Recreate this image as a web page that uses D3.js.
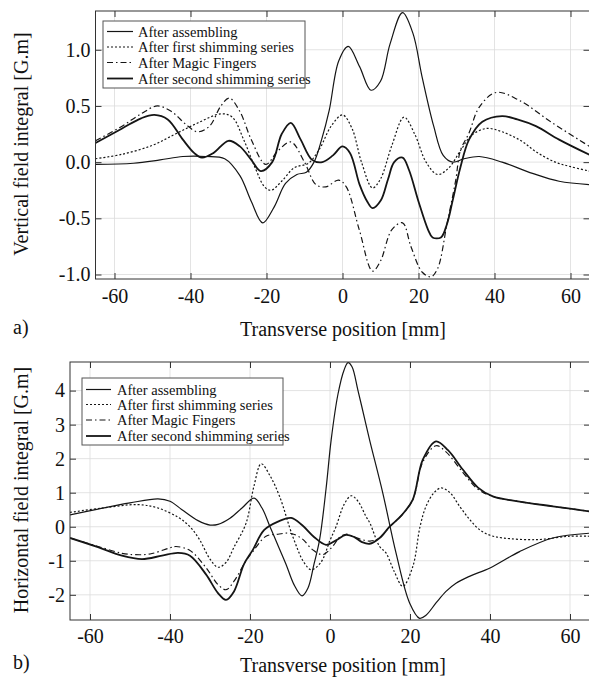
<!DOCTYPE html>
<html><head><meta charset="utf-8">
<script src="https://cdn.jsdelivr.net/npm/d3@7"></script>
<style>body{margin:0;background:#fff}svg{display:block}text{font-family:"Liberation Serif","DejaVu Serif",serif;fill:#111}</style>
</head><body>
<svg id="c" width="589" height="677"></svg>
<script>
// ---------- DATA ----------
const seriesNames = ["After assembling","After first shimming series","After Magic Fingers","After second shimming series"];
const xTicks = [-60,-40,-20,0,20,40,60];
const topYTicks = [-1.0,-0.5,0.0,0.5,1.0];
const botYTicks = [-2,-1,0,1,2,3,4];

// Vertical field integral [G.m] (panel a)
const vAssembling = [[-65,-0.02],[-55,-0.01],[-48,0.02],[-42,0.05],[-36,0.05],[-31,0.03],[-27,-0.12],[-24,-0.35],[-21,-0.54],[-18,-0.4],[-15,-0.19],[-12,-0.11],[-9.5,-0.09],[-7.5,0.0],[-5.5,0.2],[-3.5,0.46],[-1,0.9],[1.5,1.03],[4.5,0.85],[7.5,0.64],[10,0.72],[12.5,1.05],[15.8,1.33],[18.5,1.15],[21,0.75],[24,0.32],[26.5,0.06],[29,0.0],[32,0.03],[36,0.05],[42,0.0],[50,-0.1],[57,-0.17],[65,-0.2]];
const vFirst = [[-65,0.03],[-58,0.07],[-50,0.15],[-44,0.25],[-38,0.35],[-32,0.43],[-29,0.4],[-26,0.2],[-23,-0.05],[-20.5,-0.22],[-18.8,-0.25],[-16,-0.17],[-12.7,-0.05],[-9,-0.01],[-6,0.12],[-3,0.32],[0,0.42],[2.5,0.3],[5,0.0],[7.9,-0.23],[10,-0.15],[13,0.15],[16.2,0.4],[19,0.25],[22,0.0],[25,-0.11],[28,-0.05],[31,0.1],[34,0.24],[38,0.3],[42,0.27],[47,0.19],[51,0.09],[56,0.0],[60,-0.04],[65,-0.08]];
const vMagic = [[-65,0.19],[-58,0.32],[-53,0.43],[-48.7,0.5],[-45,0.45],[-41,0.33],[-38.2,0.27],[-35,0.32],[-32,0.5],[-29.8,0.57],[-27,0.45],[-24,0.2],[-20.2,-0.02],[-17,0.1],[-13.6,0.18],[-10,0.0],[-7,-0.2],[-4.4,-0.22],[-1,-0.16],[1,-0.22],[4.4,-0.6],[7.9,-0.97],[10,-0.88],[13,-0.6],[15.8,-0.54],[18,-0.75],[21,-0.98],[23.3,-1.02],[25,-0.95],[27.5,-0.55],[29.8,-0.16],[31,0.1],[33.3,0.26],[36,0.49],[40.4,0.62],[46.5,0.55],[55.2,0.35],[65,0.14]];
const vSecond = [[-65,0.17],[-58,0.3],[-53,0.39],[-49.5,0.42],[-46,0.38],[-42,0.2],[-39,0.08],[-37,0.04],[-34,0.08],[-30,0.19],[-27,0.14],[-24,0.02],[-21.5,-0.08],[-18.5,0.0],[-16,0.25],[-13.6,0.35],[-11,0.2],[-8,0.02],[-5.3,0.0],[-2.5,0.06],[0,0.14],[2,0.08],[4.5,-0.2],[6.5,-0.35],[7.9,-0.41],[10.1,-0.34],[12,-0.15],[13.6,0.0],[15.8,0.04],[17.5,-0.07],[20,-0.35],[22.5,-0.6],[23.7,-0.67],[25.9,-0.67],[27.5,-0.55],[29,-0.34],[31,-0.05],[33.3,0.2],[36.8,0.36],[42,0.41],[46,0.38],[50.9,0.32],[57,0.2],[65,0.065]];

// Horizontal field integral [G.m] (panel b)
const hAssembling = [[-65,0.35],[-58,0.52],[-50,0.7],[-43,0.82],[-40,0.75],[-37,0.5],[-33,0.18],[-30,0.05],[-28,0.07],[-25,0.25],[-22,0.55],[-19,0.84],[-17,0.55],[-15,0.0],[-13,-0.55],[-11,-1.1],[-9,-1.7],[-7,-2.03],[-5.5,-1.8],[-4,-1.1],[-2.6,-0.38],[-1,1.1],[0.3,2.56],[2,3.9],[3.5,4.6],[4.5,4.82],[5.5,4.7],[7,4.0],[9,3.0],[10,2.5],[13.2,0.99],[16.5,-0.77],[19.9,-2.24],[22.4,-2.69],[24,-2.6],[26.5,-2.24],[29,-1.9],[31.5,-1.66],[35,-1.45],[40,-1.21],[47.4,-0.73],[55.7,-0.33],[65,-0.19]];
const hFirst = [[-65,0.42],[-57,0.55],[-48,0.65],[-43,0.55],[-38,0.28],[-35,0.0],[-32.6,-0.38],[-30,-0.95],[-28,-1.19],[-26,-1.05],[-24,-0.6],[-21,0.1],[-19,1.2],[-17.2,1.85],[-15,1.5],[-12.6,0.89],[-9.3,-0.29],[-6.5,-1.05],[-4.7,-1.26],[-2.3,-1.05],[0,-0.4],[1.5,0.0],[3.5,0.65],[5.3,0.91],[7,0.75],[9,0.3],[10,0.1],[12.4,-0.58],[14,-0.77],[16,-1.3],[18.2,-1.75],[20.7,-1.17],[22.5,0.0],[24,0.6],[26,1.0],[27.8,1.14],[30,1.0],[32.4,0.6],[35,0.2],[37.4,-0.09],[40,-0.25],[43.3,-0.33],[51.6,-0.38],[59.9,-0.28],[65,-0.28]];
const hMagic = [[-65,-0.33],[-58,-0.58],[-52,-0.78],[-49,-0.82],[-45,-0.8],[-40,-0.62],[-38.5,-0.58],[-35,-0.7],[-31,-1.2],[-28,-1.7],[-26,-1.85],[-24,-1.6],[-21,-1.0],[-19.3,-0.73],[-16,-0.28],[-13,-0.22],[-10,-0.19],[-7,-0.35],[-4.3,-0.68],[-1.8,-0.82],[0.5,-0.6],[2.5,-0.3],[4,-0.22],[6,-0.3],[8,-0.38],[10,-0.42],[12.4,-0.33],[14.9,0.0],[18,0.35],[20.7,0.8],[23.2,1.9],[26.5,2.38],[29,2.2],[33.2,1.6],[37,1.1],[40.7,0.89],[47.4,0.74],[55.7,0.6],[65,0.45]];
const hSecond = [[-65,-0.33],[-58,-0.6],[-52,-0.85],[-47,-0.95],[-42,-0.85],[-38,-0.77],[-35,-0.85],[-31,-1.4],[-28,-1.95],[-26,-2.15],[-24,-1.9],[-21.5,-1.1],[-19.3,-0.68],[-16.5,-0.1],[-13,0.15],[-9.7,0.26],[-7,0.05],[-4,-0.3],[-1,-0.53],[1.5,-0.4],[4,-0.24],[6,-0.3],[8,-0.45],[9.9,-0.5],[12.4,-0.33],[14.9,0.0],[18,0.35],[20.7,0.8],[23.2,1.97],[26.5,2.51],[29.5,2.25],[33.2,1.68],[37,1.15],[40.7,0.89],[47.4,0.74],[55.7,0.6],[65,0.45]];

// ---------- DRAW ----------
const svg = d3.select("#c");
const styles = [
  {w:1.2, dash:null},
  {w:1.2, dash:"2,2"},
  {w:1.2, dash:"6,3,1.5,3"},
  {w:1.8, dash:null}
];

function panel(cfg){
  const x = d3.scaleLinear().domain([-65,65]).range(cfg.xr);
  const y = d3.scaleLinear().domain(cfg.yd).range(cfg.yr);
  const g = svg.append("g");
  const [x0,x1] = cfg.xr, [y1,y0] = cfg.yr;
  // grid
  g.selectAll(".gx").data(xTicks).join("line").attr("x1",d=>x(d)).attr("x2",d=>x(d))
    .attr("y1",y0).attr("y2",y1).attr("stroke","#dcdcdc").attr("stroke-width",0.8);
  g.selectAll(".gy").data(cfg.yTicks).join("line").attr("y1",d=>y(d)).attr("y2",d=>y(d))
    .attr("x1",x0).attr("x2",x1).attr("stroke","#dcdcdc").attr("stroke-width",0.8);
  // axes
  const ax = (a,tr)=>{const s=g.append("g").attr("transform",tr).call(a); s.attr("font-family",null).attr("font-size",null); s.select(".domain").remove();
    s.selectAll("line").attr("stroke","#333"); s.selectAll("text").style("font-size","20px").attr("fill","#111").style("font-family","'Liberation Serif',serif"); return s;};
  ax(d3.axisBottom(x).tickValues(xTicks).tickSize(-6).tickPadding(cfg.xpad).tickFormat(d=>String(d)),`translate(0,${y1})`);
  ax(d3.axisTop(x).tickValues(xTicks).tickSize(-6).tickFormat(""),`translate(0,${y0})`);
  ax(d3.axisLeft(y).tickValues(cfg.yTicks).tickSize(-6).tickPadding(cfg.ypad).tickFormat(cfg.yfmt),`translate(${x0},0)`);
  ax(d3.axisRight(y).tickValues(cfg.yTicks).tickSize(-6).tickFormat(""),`translate(${x1},0)`);
  // curves
  const line = d3.line().x(d=>x(d[0])).y(d=>y(d[1])).curve(d3.curveCatmullRom.alpha(0.5));
  const clipId = "clip"+cfg.id;
  svg.append("clipPath").attr("id",clipId).append("rect").attr("x",x0).attr("y",y0).attr("width",x1-x0).attr("height",y1-y0);
  const cg = g.append("g").attr("clip-path",`url(#${clipId})`);
  cfg.series.forEach((s,i)=>{
    cg.append("path").attr("d",line(s)).attr("fill","none").attr("stroke","#151515")
      .attr("stroke-width",styles[i].w).attr("stroke-dasharray",styles[i].dash);
  });
  // frame
  g.append("rect").attr("x",x0).attr("y",y0).attr("width",x1-x0).attr("height",y1-y0)
    .attr("fill","none").attr("stroke","#333").attr("stroke-width",1);
  // legend
  const L = cfg.leg;
  const lg = g.append("g");
  lg.append("rect").attr("x",L.x).attr("y",L.y).attr("width",L.w).attr("height",L.h)
    .attr("fill","#fff").attr("stroke","#555").attr("stroke-width",1);
  seriesNames.forEach((n,i)=>{
    const yy = L.rows[i];
    lg.append("line").attr("x1",L.lx0).attr("x2",L.lx1).attr("y1",yy).attr("y2",yy)
      .attr("stroke","#151515").attr("stroke-width",styles[i].w).attr("stroke-dasharray",styles[i].dash);
    lg.append("text").attr("x",L.tx).attr("y",yy).attr("dy","0.35em").style("font-size","14.5px").text(n);
  });
  // titles
  svg.append("text").attr("transform",`translate(28,${cfg.ytc}) rotate(-90)`).attr("text-anchor","middle")
    .style("font-size","20px").text(cfg.ytitle);
  svg.append("text").attr("x",cfg.xtc).attr("y",cfg.xtb).attr("text-anchor","middle").style("font-size","20px").text("Transverse position [mm]");
  svg.append("text").attr("x",13).attr("y",cfg.lab.y).style("font-size","20px").text(cfg.lab.t);
}

panel({id:"a", xr:[95.5,589.5], yd:[-1.04,1.345], yr:[279,11], yTicks:topYTicks, xpad:10, ypad:5,
  yfmt:d=>d.toFixed(1), series:[vAssembling,vFirst,vMagic,vSecond],
  leg:{x:103,y:21,w:202,h:67,rows:[31.5,47,62.5,78.5],lx0:107,lx1:133,tx:138},
  ytitle:"Vertical field integral [G.m]", ytc:144, xtc:343, xtb:336, lab:{t:"a)",y:334}});
panel({id:"b", xr:[70,590], yd:[-2.74,4.84], yr:[620,362], yTicks:botYTicks, xpad:9, ypad:5,
  yfmt:d=>String(d), series:[hAssembling,hFirst,hMagic,hSecond],
  leg:{x:82,y:378,w:201,h:67,rows:[389.5,404.5,420,436],lx0:86,lx1:111,tx:117},
  ytitle:"Horizontal field integral [G.m]", ytc:490, xtc:343, xtb:672, lab:{t:"b)",y:669}});
</script>
</body></html>
